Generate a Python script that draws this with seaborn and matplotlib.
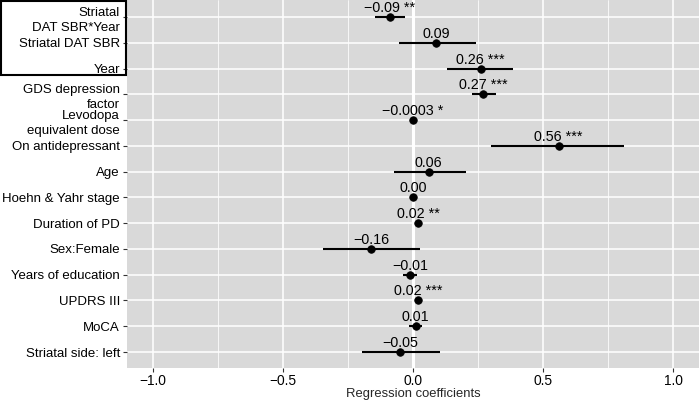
import matplotlib
matplotlib.use("Agg")
import matplotlib.pyplot as plt
import matplotlib.patches as patches
from matplotlib.ticker import MultipleLocator
import pandas as pd
import seaborn as sns

# Termos do modelo (de cima para baixo)
termos = [
    "Striatal\nDAT SBR*Year",
    "Striatal DAT SBR",
    "Year",
    "GDS depression\nfactor",
    "Levodopa\nequivalent dose",
    "On antidepressant",
    "Age",
    "Hoehn & Yahr stage",
    "Duration of PD",
    "Sex:Female",
    "Years of education",
    "UPDRS III",
    "MoCA",
    "Striatal side: left",
]
estimativas = [-0.09, 0.09, 0.26, 0.27, -0.0003, 0.56, 0.06, 0.00, 0.02, -0.16, -0.01, 0.02, 0.01, -0.05]
ic_inf = [-0.147, -0.055, 0.132, 0.228, -0.0003, 0.30, -0.075, 0.00, 0.02, -0.345, -0.04, 0.02, -0.015, -0.197]
ic_sup = [-0.032, 0.244, 0.386, 0.318, -0.0003, 0.813, 0.204, 0.00, 0.02, 0.028, 0.017, 0.02, 0.036, 0.103]
rotulos = ["\u22120.09 **", "0.09", "0.26 ***", "0.27 ***", "\u22120.0003 *", "0.56 ***", "0.06",
           "0.00", "0.02 **", "\u22120.16", "\u22120.01", "0.02 ***", "0.01", "\u22120.05"]

df = pd.DataFrame({"termo": termos, "estimativa": estimativas,
                   "inf": ic_inf, "sup": ic_sup, "rotulo": rotulos})

sns.set_style("white")
plt.rcParams["font.family"] = ["Liberation Sans", "DejaVu Sans"]
plt.rcParams["axes.unicode_minus"] = True

fig = plt.figure(figsize=(6.99, 4.0), dpi=100)
ax = fig.add_axes([127 / 699, 32 / 400, 572 / 699, 368 / 400])
ax.set_facecolor("#D9D9D9")

# intervalos de confiança
ax.hlines(y=range(len(df)), xmin=df["inf"], xmax=df["sup"], color="black", lw=1.5, zorder=3)

sns.pointplot(data=df, x="estimativa", y="termo", orient="h", linestyle="none",
              errorbar=None, color="black", marker="o", markersize=5.4,
              markeredgewidth=0.6, zorder=4, ax=ax)

for i, linha in df.iterrows():
    ax.annotate(linha["rotulo"], (linha["estimativa"], i), xytext=(0, 3.6),
                textcoords="offset points", ha="center", va="baseline",
                fontsize=10.3, color="black", zorder=5)

n = len(df)
ax.set_ylim(n - 1 + 0.62, -0.66)
ax.set_xlim(-1.1, 1.1)
ax.set_xticks([-1.0, -0.5, 0.0, 0.5, 1.0])
ax.set_xticklabels(["\u22121.0", "\u22120.5", "0.0", "0.5", "1.0"])
ax.xaxis.set_minor_locator(MultipleLocator(0.25))

ax.set_axisbelow(True)
ax.grid(True, which="major", color="white", lw=1.1, zorder=0.5)
ax.grid(True, which="minor", axis="x", color="white", lw=0.55, zorder=0.5)
ax.axvline(0, color="white", lw=2.2, zorder=1)

for s in ax.spines.values():
    s.set_visible(False)

ax.set_yticks(range(n))
ax.set_yticklabels(termos, linespacing=1.4)
ax.tick_params(axis="y", which="major", length=3, width=0.8, color="#333333",
               labelsize=9.5, labelcolor="black", pad=2, left=True)
ax.tick_params(axis="x", which="major", length=3, width=0.8, color="#333333",
               labelsize=9.9, labelcolor="black", pad=1.2, bottom=True)
ax.tick_params(axis="x", which="minor", length=0)

ax.set_ylabel("")
ax.set_xlabel("Regression coefficients", fontsize=9.4, labelpad=0)

# caixa em volta dos três primeiros termos
caixa = patches.Rectangle((1 / 699, 1 - 75 / 400), 125 / 699, 74 / 400,
                          transform=fig.transFigure, fill=False, edgecolor="black",
                          lw=1.5, clip_on=False)
fig.patches.append(caixa)

fig.savefig("out.png", dpi=100)
